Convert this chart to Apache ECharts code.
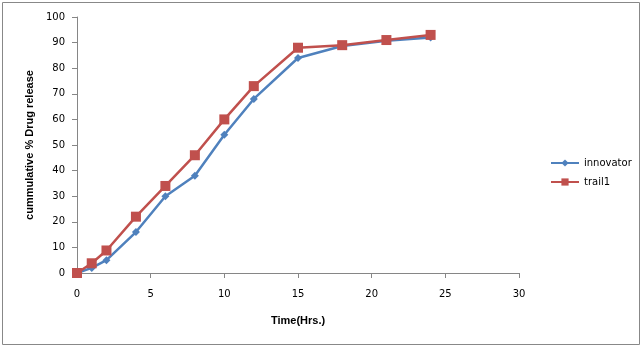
<!DOCTYPE html>
<html><head><meta charset="utf-8">
<script src="https://cdn.jsdelivr.net/npm/echarts@6/dist/echarts.min.js"></script>
<style>html,body{margin:0;padding:0;background:#fff}#c{width:644px;height:350px}</style>
</head><body><div id="c"></div>
<script>
const times = [0, 1, 2, 4, 6, 8, 10, 12, 15, 18, 21, 24];
const innovator = [0, 2, 5, 16, 30, 38, 54, 68, 84, 88.7, 90.7, 92];
const trail1 = [0, 3.8, 8.8, 22, 34, 46, 60, 73, 88, 89, 91, 93];
const xTicks = [0, 5, 10, 15, 20, 25, 30];
const yTicks = [0, 10, 20, 30, 40, 50, 60, 70, 80, 90, 100];

const chart = echarts.init(document.getElementById('c'));
const font = 'DejaVu Sans';
chart.setOption({
  animation: false,
  graphic: [{type:'rect', shape:{x:2.5,y:2.5,width:637,height:342}, style:{fill:'none', stroke:'#888', lineWidth:1}}],
  grid: {left: 77, right: 125, top: 17, bottom: 77},
  legend: {
    orient: 'vertical', left: 545, top: 153, itemGap: 9, itemWidth: 28, itemHeight: 9,
    textStyle: {fontFamily: font, fontSize: 10, color: '#000'},
    data: ['innovator', 'trail1']
  },
  xAxis: {
    type: 'value', min: 0, max: 30, interval: 5,
    name: 'Time(Hrs.)', nameLocation: 'middle', nameGap: 42,
    nameTextStyle: {fontFamily: 'Liberation Sans', fontWeight: 'bold', fontSize: 11, color: '#000'},
    axisLine: {lineStyle: {color: '#868686'}},
    axisTick: {show: true, length: 5, lineStyle: {color: '#868686'}},
    axisLabel: {fontFamily: font, fontSize: 10, color: '#000', margin: 16,
      formatter: v => xTicks.includes(v) ? String(v) : ''},
    splitLine: {show: false}
  },
  yAxis: {
    type: 'value', min: 0, max: 100, interval: 10,
    name: 'cummulative % Drug release', nameLocation: 'middle', nameGap: 37,
    nameTextStyle: {fontFamily: 'Liberation Sans', fontWeight: 'bold', fontSize: 11, color: '#000'},
    axisLine: {show: true, lineStyle: {color: '#868686'}},
    axisTick: {show: true, length: 5, lineStyle: {color: '#868686'}},
    axisLabel: {fontFamily: font, fontSize: 10, color: '#000', margin: 12,
      formatter: v => yTicks.includes(v) ? String(v) : ''},
    splitLine: {show: false}
  },
  series: [
    {name: 'innovator', type: 'line', data: times.map((t, i) => [t, innovator[i]]),
     symbol: 'diamond', symbolSize: 8, itemStyle: {color: '#4F81BD'},
     lineStyle: {width: 2.5, color: '#4F81BD'}},
    {name: 'trail1', type: 'line', data: times.map((t, i) => [t, trail1[i]]),
     symbol: 'rect', symbolSize: 10, itemStyle: {color: '#C0504D'},
     lineStyle: {width: 2.5, color: '#C0504D'}}
  ]
});
</script></body></html>
